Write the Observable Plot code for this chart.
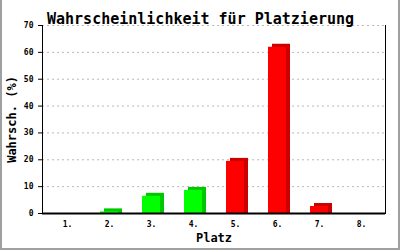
<!DOCTYPE html>
<html>
<head>
<meta charset="utf-8">
<script src="https://cdn.jsdelivr.net/npm/d3@7"></script>
<script src="https://cdn.jsdelivr.net/npm/@observablehq/plot@0.6"></script>
<style>
  body { margin: 0; background: white; }
  #wrap { position: relative; width: 400px; height: 250px; }
  #border { position: absolute; left: 0; top: 0; width: 400px; height: 250px; box-sizing: border-box;
            border-left: 2px solid #a0a0a0; border-right: 2px solid #a0a0a0; border-bottom: 2px solid #a0a0a0; pointer-events: none; }
</style>
</head>
<body>
<div id="wrap"><div id="border"></div></div>
<script>
const places = ["1.", "2.", "3.", "4.", "5.", "6.", "7.", "8."];
const probs = [0, 0.6, 6.4, 8.6, 19.4, 61.9, 2.6, 0];
const groups = ["green", "green", "green", "green", "red", "red", "red", "red"];
const yTicks = [0, 10, 20, 30, 40, 50, 60, 70];
const title = "Wahrscheinlichkeit für Platzierung";

const frontColor = {green: "#00ff00", red: "#ff0000"};
const sideColor = {green: "#00c800", red: "#cc0000"};

const data = places.map((p, i) => ({place: p, value: probs[i], group: groups[i]}));
const shown = data.filter(d => d.value > 0);

const mono = "DejaVu Sans Mono, monospace";

const chart = Plot.plot({
  width: 400,
  height: 250,
  marginLeft: 42,
  marginRight: 15,
  marginTop: 25,
  marginBottom: 37,
  style: {fontFamily: mono, fontSize: "8px", color: "black", background: "white"},
  x: {domain: places, padding: 0, label: null},
  y: {domain: [0, 70], label: null},
  marks: [
    Plot.gridY(yTicks.filter(t => t > 0), {stroke: "#b8b8b8", strokeOpacity: 1, strokeDasharray: "2,3"}),
    Plot.axisY(yTicks, {tickSize: 4, tickPadding: 5, fontSize: 8, fontWeight: "bold"}),
    Plot.axisX(places, {tickSize: 0, tickPadding: 8, fontSize: 8, fontWeight: "bold"}),
    Plot.barY(shown, {x: "place", y: "value", fill: d => sideColor[d.group], insetLeft: 12, insetRight: 12, dx: 4, dy: -3, insetBottom: -3}),
    Plot.barY(shown, {x: "place", y: "value", fill: d => frontColor[d.group], insetLeft: 12, insetRight: 12}),
    Plot.ruleY([0], {stroke: "black", strokeWidth: 2}),
    Plot.frame({anchor: "left", stroke: "black", strokeWidth: 1}),
    Plot.frame({anchor: "right", stroke: "black", strokeWidth: 1}),
    Plot.text([title], {frameAnchor: "top", dx: -13.5, dy: -12, fontSize: 15, fontWeight: "bold", fontFamily: mono}),
    Plot.text(["Platz"], {frameAnchor: "bottom", dy: 28, fontSize: 12, fontWeight: "bold", fontFamily: mono}),
    Plot.text(["Wahrsch. (%)"], {frameAnchor: "left", textAnchor: "middle", dx: -30, rotate: -90, fontSize: 12, fontWeight: "bold", fontFamily: mono})
  ]
});
chart.setAttribute("fill", "black");
document.getElementById("wrap").prepend(chart);
</script>
</body>
</html>
